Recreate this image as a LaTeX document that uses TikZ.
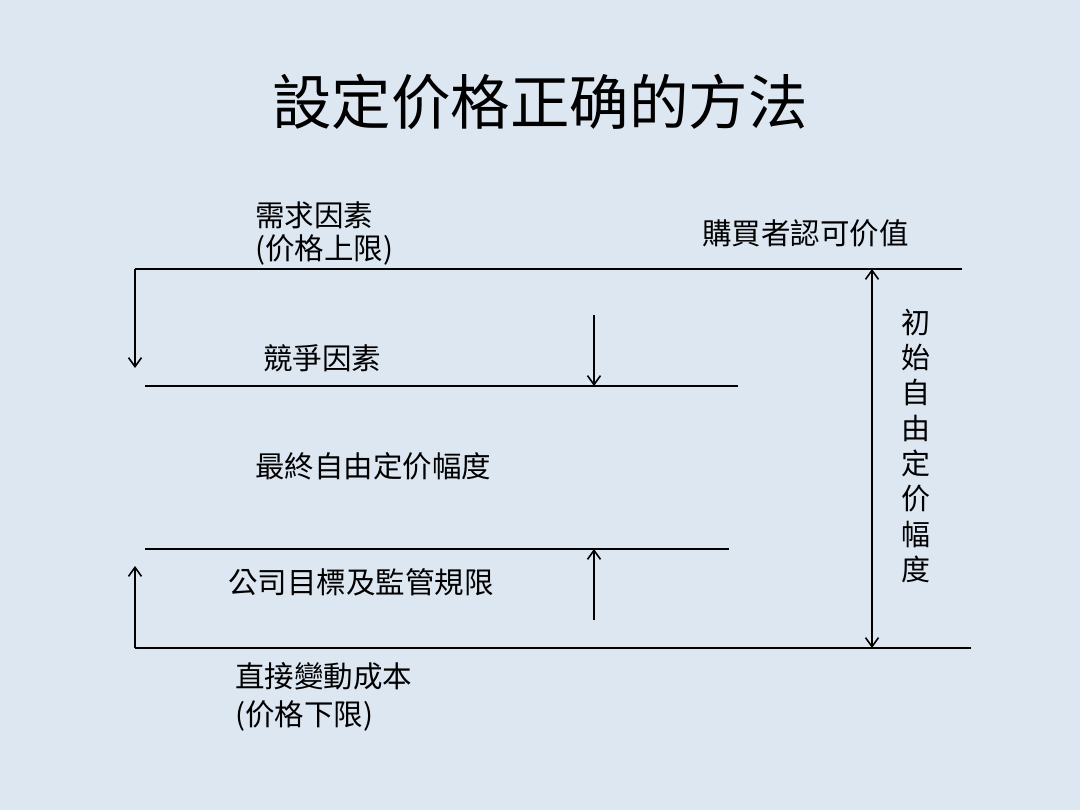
\documentclass[tikz,border=0pt]{standalone}
\usepackage{fontspec}
\setmainfont{Noto Sans CJK TC}
\newfontfamily\cjk{Noto Sans CJK TC}
\usetikzlibrary{arrows.meta}
\definecolor{bgblue}{HTML}{DDE7F2}
\tikzset{
  lbl/.style={anchor=west, inner sep=0pt, font=\cjk\fontsize{29.5}{34}\selectfont, text=black},
  ttl/.style={anchor=center, inner sep=0pt, font=\cjk\fontsize{59.5}{66}\selectfont, text=black},
  vtxt/.style={anchor=center, inner sep=0pt, font=\cjk\fontsize{29}{33}\selectfont, text=black, align=center},
  rule/.style={line width=2pt, draw=black},
  arr/.style={line width=1.6pt, draw=black, -{Straight Barb[length=9pt,width=13pt,line width=1.6pt]}},
  darr/.style={line width=1.6pt, draw=black, {Straight Barb[length=9pt,width=13pt,line width=1.6pt]}-{Straight Barb[length=9pt,width=13pt,line width=1.6pt]}}
}
\begin{document}
\begin{tikzpicture}[x=1pt,y=-1pt]
\fill[bgblue] (0,0) rectangle (1080,810);
\useasboundingbox (0,0) rectangle (1080,810);

\node[ttl] (title) at (540,102) {設定价格正确的方法};

% coordinates
\coordinate (topL) at (135,269);
\coordinate (topR) at (962,269);
\coordinate (compL) at (145,386);
\coordinate (compR) at (738,386);
\coordinate (corpL) at (145,549);
\coordinate (corpR) at (729,549);
\coordinate (botL) at (135,648);
\coordinate (botR) at (971,648);
\coordinate (leftDownEnd) at (135,368);
\coordinate (leftUpEnd) at (135,566);
\coordinate (midDownStart) at (594,315);
\coordinate (midDownEnd) at (594,386);
\coordinate (midUpStart) at (594,620);
\coordinate (midUpEnd) at (594,549);
\coordinate (rTop) at (872,269);
\coordinate (rBot) at (872,648);

% horizontal rules
\draw[rule] (topL) -- (topR);
\draw[rule] (compL) -- (compR);
\draw[rule] (corpL) -- (corpR);
\draw[rule] (botL) -- (botR);

% arrows
\draw[arr] (topL) -- (leftDownEnd);
\draw[arr] (botL) -- (leftUpEnd);
\draw[arr] (midDownStart) -- (midDownEnd);
\draw[arr] (midUpStart) -- (midUpEnd);
\draw[darr] (rTop) -- (rBot);

% labels
\node[lbl] (demand) at (255,215) {需求因素};
\node[lbl] (ceiling) at (255,250) {(价格上限)};
\node[lbl] (buyer) at (702,233) {購買者認可价值};
\node[lbl] (comp) at (263,358) {競爭因素};
\node[lbl] (final) at (255,466) {最終自由定价幅度};
\node[lbl] (corp) at (228,582) {公司目標及監管規限};
\node[lbl] (cost) at (235,676) {直接變動成本};
\node[lbl] (floor) at (235,716) {(价格下限)};

% vertical text
\foreach \c [count=\i from 0] in {初,始,自,由,定,价,幅,度}{
  \node[vtxt] (v\i) at (916,{322+35.4*\i}) {\c};
}
\end{tikzpicture}
\end{document}
